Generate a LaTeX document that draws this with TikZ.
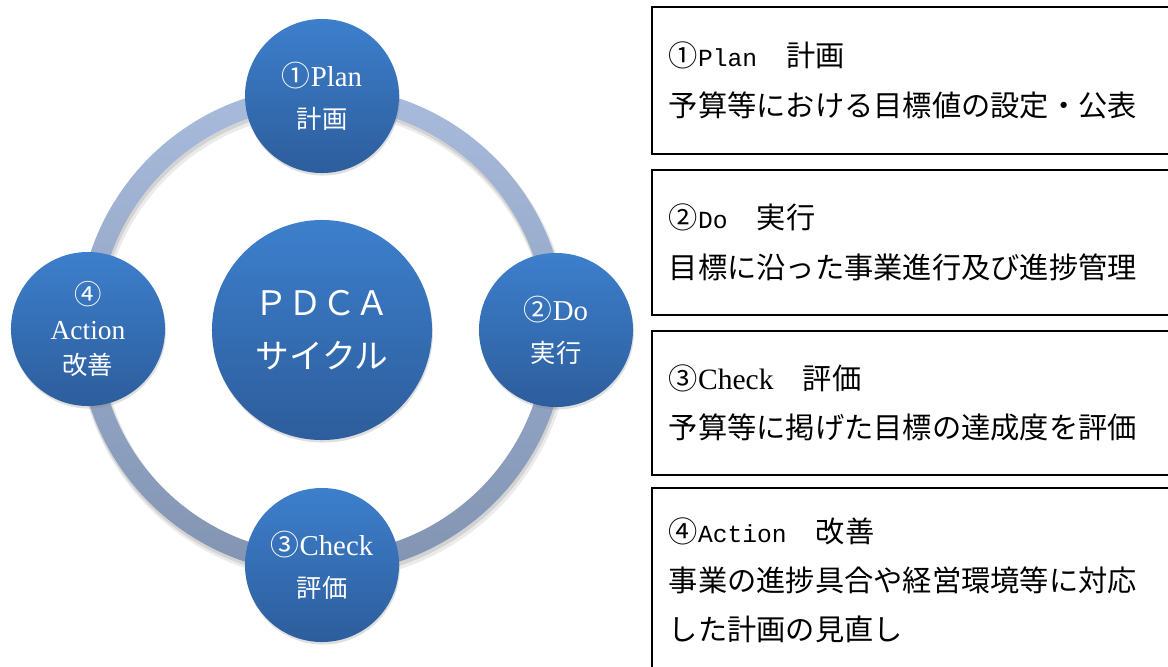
\documentclass[tikz,border=0pt]{standalone}
\usepackage{fontspec}
\setmainfont{Liberation Serif}
\newfontfamily\jp{Noto Sans CJK JP}
\newfontfamily\halfmono{Liberation Mono}
\usetikzlibrary{shadows}
\definecolor{cycletop}{RGB}{61,127,204}
\definecolor{cyclebot}{RGB}{45,93,156}
\definecolor{ringtop}{RGB}{168,187,220}
\definecolor{ringbot}{RGB}{130,148,178}

\tikzset{
  stage/.style={circle, draw=none, top color=cycletop, bottom color=cyclebot,
    text=white, minimum size=3.85cm, inner sep=0pt, align=center,
    drop shadow={opacity=0.25, shadow xshift=0.6pt, shadow yshift=-1.8pt},
    font=\fontsize{20.5}{30}\selectfont},
  stepbox/.style={draw, line width=1.2pt, rectangle, anchor=north west,
    text width=12.4cm, inner xsep=0.425cm, align=left,
    font=\jp\fontsize{20.8}{35}\selectfont}
}

\begin{document}
\begin{tikzpicture}[x=0.025cm, y=-0.025cm]
  \clip (0,0) rectangle (1168,666);
  \fill[white] (0,0) rectangle (1168,666);

  % Ring behind the stages, with a soft shadow
  \fill[black, opacity=0.08, even odd rule] (324,335) circle (6.15cm) (324,335) circle (5.55cm);
  \fill[black, opacity=0.10, even odd rule] (323,333) circle (6.12cm) (323,333) circle (5.58cm);
  \shade[top color=ringtop, bottom color=ringbot, even odd rule] (322,330) circle (6.1cm) (322,330) circle (5.6cm);

  % Centre of the cycle
  \node[stage, minimum size=5.5cm, font=\jp\fontsize{24}{38}\selectfont] (pdca) at (322,330) {ＰＤＣＡ\\サイクル};

  % The four stages
  \node[stage] (plan) at (322,96) {{\jp ①}Plan\\{\jp\fontsize{18}{30}\selectfont 計画}};
  \node[stage] (do) at (556,330) {{\jp ②}Do\\{\jp\fontsize{18}{30}\selectfont 実行}};
  \node[stage] (check) at (322,565) {{\jp ③}Check\\{\jp\fontsize{18}{30}\selectfont 評価}};
  \node[stage, font=\fontsize{19.5}{25}\selectfont] (action) at (88,329) {{\jp ④}\\Action\\{\jp\fontsize{18}{25}\selectfont 改善}};

  % Explanations on the right
  \node[stepbox, minimum height=3.675cm] (planbox) at (651,6)
    {①{\halfmono\fontsize{17.5}{35}\selectfont Plan}　計画\\予算等における目標値の設定・公表};
  \node[stepbox, minimum height=3.625cm] (dobox) at (651,169)
    {②{\halfmono\fontsize{17.5}{35}\selectfont Do}　実行\\目標に沿った事業進行及び進捗管理};
  \node[stepbox, minimum height=3.6cm] (checkbox) at (651,330)
    {③{\rmfamily\fontsize{21}{35}\selectfont Check}　評価\\予算等に掲げた目標の達成度を評価};
  \node[stepbox, minimum height=4.625cm] (actionbox) at (651,487)
    {④{\halfmono\fontsize{17.5}{35}\selectfont Action}　改善\\事業の進捗具合や経営環境等に対応\\した計画の見直し};
\end{tikzpicture}
\end{document}
